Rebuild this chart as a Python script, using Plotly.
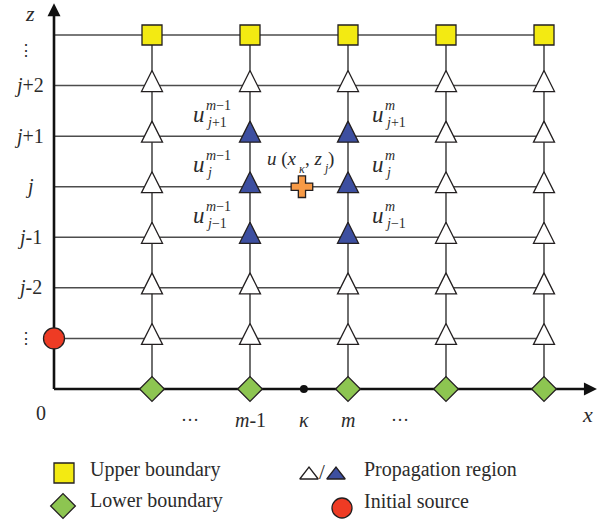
import plotly.graph_objects as go

# ---- grid data -------------------------------------------------------------
columns = [1, 2, 3, 4, 5]            # x node indices (m-index)
inner_rows = [1, 2, 3, 4, 5, 6]      # interior z levels (propagation region)
top_row = 7                          # upper boundary level
bottom_row = 0                       # lower boundary level (on the x axis)
source_row = 1                       # initial source on the z axis
kappa = 2.55                         # x_kappa, between m-1 and m

stencil_cols = [2, 3]                # m-1, m
stencil_rows = [3, 4, 5]             # j-1, j, j+1
target_row = 4                       # j

x_label_pos = [1.39, 2, kappa, 3, 3.53]
x_label_text = ["…", "<i>m</i>-1", "<i>κ</i>", "<i>m</i>", "…"]
z_label_pos = [1, 2, 3, 4, 5, 6, 6.7]
z_label_text = ["⋮", "<i>j</i>-2", "<i>j</i>-1", "<i>j</i>",
                "<i>j</i>+1", "<i>j</i>+2", "⋮"]

stencil_sub = {5: "<i>j</i>+1", 4: "<i>j</i>", 3: "<i>j</i>−1"}
stencil_sup = {2: "<i>m</i>−1", 3: "<i>m</i>"}

x_tip, z_tip = 5.54, 7.63           # arrow tips of the axes

# ---- page geometry ---------------------------------------------------------
W, H = 605, 523
X0, XS = 54, 98.0        # pixel of x=0 and pixels per x unit
Z0, ZS = 389, 50.57      # pixel of z=0 and pixels per z unit

INK = "#231f20"
TEXT = "#2b2b2b"
SERIF = "Liberation Serif, DejaVu Serif, serif"
DOTS = "DejaVu Serif, serif"
YELLOW, GREEN, BLUE, RED, ORANGE = "#f3ea12", "#8dc551", "#3d4fa0", "#ee3b24", "#f79a46"

fig = go.Figure()

# horizontal grid lines
hx, hz = [], []
for r in inner_rows + [top_row]:
    hx += [0, columns[-1], None]
    hz += [r, r, None]
fig.add_trace(go.Scatter(x=hx, y=hz, mode="lines",
                         line=dict(color="#4d4d4d", width=1.5), hoverinfo="skip"))

# vertical grid lines
vx, vz = [], []
for c in columns:
    vx += [c, c, None]
    vz += [bottom_row, top_row, None]
fig.add_trace(go.Scatter(x=vx, y=vz, mode="lines",
                         line=dict(color="#333333", width=1.4), hoverinfo="skip"))

# axes
fig.add_trace(go.Scatter(x=[0, 0, None, 0, x_tip - 0.05], y=[z_tip - 0.1, 0, None, 0, 0],
                         mode="lines", line=dict(color="#111111", width=2.6),
                         hoverinfo="skip"))
fig.add_trace(go.Scatter(x=[0, x_tip], y=[z_tip, 0], mode="markers",
                         marker=dict(symbol=["arrow-up", "arrow-right"], size=13,
                                     color="#111111", opacity=1, line=dict(width=0)),
                         hoverinfo="skip"))

# propagation region triangles
wx, wz, bx, bz = [], [], [], []
for c in columns:
    for r in inner_rows:
        if c in stencil_cols and r in stencil_rows:
            bx.append(c); bz.append(r)
        else:
            wx.append(c); wz.append(r)
tri = dict(symbol="arrow-down", angle=180, standoff=15, size=21,
           line=dict(color=INK, width=1.3))
fig.add_trace(go.Scatter(x=wx, y=wz, mode="markers",
                         marker=dict(color="white", **tri), hoverinfo="skip"))
fig.add_trace(go.Scatter(x=bx, y=bz, mode="markers",
                         marker=dict(color=BLUE, **tri), hoverinfo="skip"))

# upper boundary squares
fig.add_trace(go.Scatter(x=columns, y=[top_row] * len(columns), mode="markers",
                         marker=dict(symbol="square", size=20, color=YELLOW,
                                     line=dict(color=INK, width=1.3)), hoverinfo="skip"))
# lower boundary diamonds
fig.add_trace(go.Scatter(x=columns, y=[bottom_row] * len(columns), mode="markers",
                         marker=dict(symbol="diamond", size=19, color=GREEN,
                                     line=dict(color=INK, width=1.3)), hoverinfo="skip"))
# initial source
fig.add_trace(go.Scatter(x=[0], y=[source_row], mode="markers",
                         marker=dict(symbol="circle", size=21, color=RED,
                                     line=dict(color=INK, width=1.3)), hoverinfo="skip"))
# target point u(x_kappa, z_j) and x_kappa on the axis
fig.add_trace(go.Scatter(x=[kappa - 0.02], y=[target_row], mode="markers",
                         marker=dict(symbol="cross", size=18, color=ORANGE,
                                     line=dict(color=INK, width=1.3)), hoverinfo="skip"))
fig.add_trace(go.Scatter(x=[kappa], y=[0], mode="markers",
                         marker=dict(symbol="circle", size=8, color="#111111"),
                         hoverinfo="skip"))

annotations = []


def note(text, x, y, size, xshift=0, yshift=0, xanchor="center", xref="x", yref="y",
         family=SERIF):
    annotations.append(dict(text=text, x=x, y=y, xref=xref, yref=yref,
                            xshift=xshift, yshift=yshift, xanchor=xanchor,
                            yanchor="middle", showarrow=False, borderpad=0,
                            font=dict(family=family, size=size, color=TEXT)))


# axis labels
note("<i>z</i>", 0, z_tip, 22, xshift=-24, yshift=-10)
note("<i>x</i>", x_tip, 0, 22, xshift=-9, yshift=-25)
note("0", 0, 0, 20, xshift=-13, yshift=-24)
for p, t in zip(x_label_pos, x_label_text):
    if t == "…":
        note(t, p, 0, 18, yshift=-26)
    else:
        note(t, p, 0, 20, yshift=-31)
for p, t in zip(z_label_pos, z_label_text):
    if t == "⋮":
        note(t, 0, p, 16, xshift=-28, family=DOTS)
    else:
        note(t, 0, p, 20, xshift=-25)

# stencil labels u_j^m
for c in stencil_cols:
    left = c == stencil_cols[0]
    dx = -44 if left else 37
    for r in stencil_rows:
        note("<i>u</i>", c, r, 23, xshift=dx, yshift=22, xanchor="right")
        note(stencil_sup[c], c, r, 14, xshift=dx - 1, yshift=31, xanchor="left")
        note(stencil_sub[r], c, r, 14, xshift=dx - 1, yshift=14, xanchor="left")

# label of the interpolated value u(x_kappa, z_j)
note("<i>u</i> (<i>x</i>", kappa, target_row, 19, xshift=-6, yshift=28, xanchor="right")
note("<i>κ</i>", kappa, target_row, 12, xshift=-6, yshift=18, xanchor="left")
note(", <i>z</i>", kappa, target_row, 19, xshift=0, yshift=28, xanchor="left")
note("<i>j</i>", kappa, target_row, 12, xshift=18, yshift=19, xanchor="left")
note(")", kappa, target_row, 19, xshift=23, yshift=28, xanchor="left")

# ---- legend (pixel axes) ---------------------------------------------------
leg_sym = ["square", "diamond", "triangle-up", "triangle-up", "circle"]
leg_col = [YELLOW, GREEN, "white", BLUE, RED]
leg_size = [20, 19, 16, 16, 20]
leg_px = [64, 63, 309, 336, 342]
leg_py = [473, 506, 475, 475, 508]
fig.add_trace(go.Scatter(x=leg_px, y=leg_py, xaxis="x2", yaxis="y2", mode="markers",
                         marker=dict(symbol=leg_sym, color=leg_col, size=leg_size,
                                     opacity=1, line=dict(color=INK, width=1.3)),
                         hoverinfo="skip"))
note("/", 322, 472, 21, xref="x2", yref="y2")
for t, px, py in [("Upper boundary", 89, 469), ("Lower boundary", 89, 500),
                  ("Propagation region", 363, 469), ("Initial source", 363, 501)]:
    note(t, px, py, 20, xanchor="left", xref="x2", yref="y2")

fig.update_layout(
    width=W, height=H, autosize=False,
    margin=dict(l=0, r=0, t=0, b=0, pad=0),
    paper_bgcolor="white", plot_bgcolor="white",
    showlegend=False,
    xaxis=dict(range=[-X0 / XS, (W - X0) / XS], visible=False, fixedrange=True),
    yaxis=dict(range=[(Z0 - H) / ZS, Z0 / ZS], visible=False, fixedrange=True),
    xaxis2=dict(range=[0, W], visible=False, overlaying="x", anchor="y2"),
    yaxis2=dict(range=[H, 0], visible=False, overlaying="y", anchor="x2"),
    annotations=annotations,
)

fig.write_html("out.html")
